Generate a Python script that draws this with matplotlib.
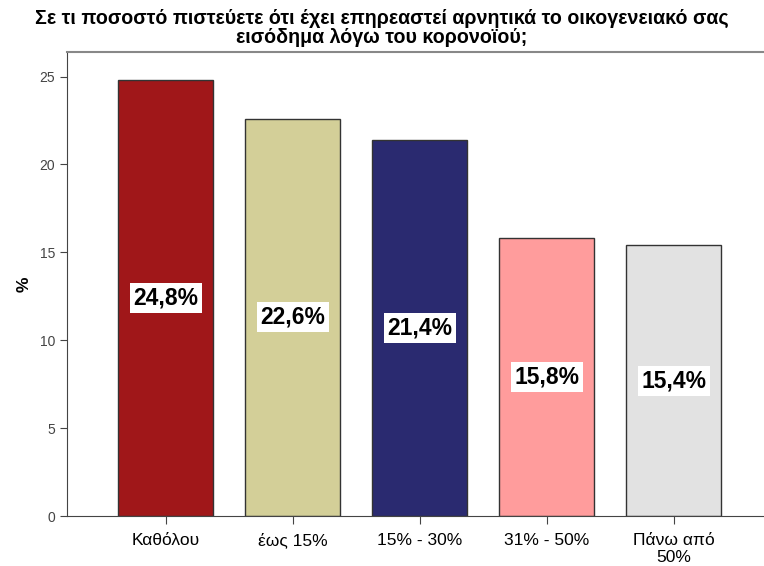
import matplotlib
matplotlib.use('Agg')
import matplotlib.pyplot as plt
from matplotlib.transforms import ScaledTranslation

categories = ['Καθόλου', 'έως 15%', '15% - 30%', '31% - 50%', 'Πάνω από\n50%']
values = [24.8, 22.6, 21.4, 15.8, 15.4]
labels = ['24,8%', '22,6%', '21,4%', '15,8%', '15,4%']
colors = ['#A01719', '#D3CF98', '#2A2A70', '#FF9C9C', '#E2E2E2']
title = 'Σε τι ποσοστό πιστεύετε ότι έχει επηρεαστεί αρνητικά το οικογενειακό σας\nεισόδημα λόγω του κορονοϊού;'

plt.rcParams['font.family'] = ['Liberation Sans', 'DejaVu Sans']

fig = plt.figure(figsize=(7.64, 5.66), dpi=100)
ax = fig.add_axes([67 / 764, 50 / 566, 697 / 764, (516 - 52) / 566])

x = range(len(categories))
ax.bar(x, values, width=0.75, color=colors, edgecolor='#333333', linewidth=1.0, zorder=2)

for i, v in enumerate(values):
    ax.text(i, v / 2, labels[i], ha='center', va='center', fontsize=16.5, fontweight='bold',
            bbox=dict(facecolor='white', edgecolor='none', pad=2.5), zorder=3)

ax.set_xlim(-0.776, 4.71)
ax.set_ylim(0, 26.4)
ax.set_yticks([0, 5, 10, 15, 20, 25])
ax.set_xticks(list(x))
ax.tick_params(axis='y', labelsize=10, labelcolor='#444444', length=5, color='#444444')
ax.tick_params(axis='x', length=6, color='#444444', labelbottom=False)
ax.set_ylabel('%', fontsize=12.5, fontweight='bold', labelpad=6)

# category labels, one text per line so every first line shares a baseline
for i, cat in enumerate(categories):
    for k, line in enumerate(cat.split('\n')):
        tr = ax.get_xaxis_transform() + ScaledTranslation(0, -(29 + 17 * k) / 100, fig.dpi_scale_trans)
        ax.text(i, 0, line, transform=tr, ha='center', va='baseline', fontsize=12.5)

for s in ['left', 'bottom']:
    ax.spines[s].set_color('#444444')
ax.spines['top'].set_color('#888888')
ax.spines['top'].set_linewidth(1.5)
ax.spines['right'].set_visible(False)

fig.text(0.5, 1 - 28 / 566, title, ha='center', va='center', fontsize=14.1, fontweight='bold',
         linespacing=1.05)

fig.savefig('out.png', dpi=100)
